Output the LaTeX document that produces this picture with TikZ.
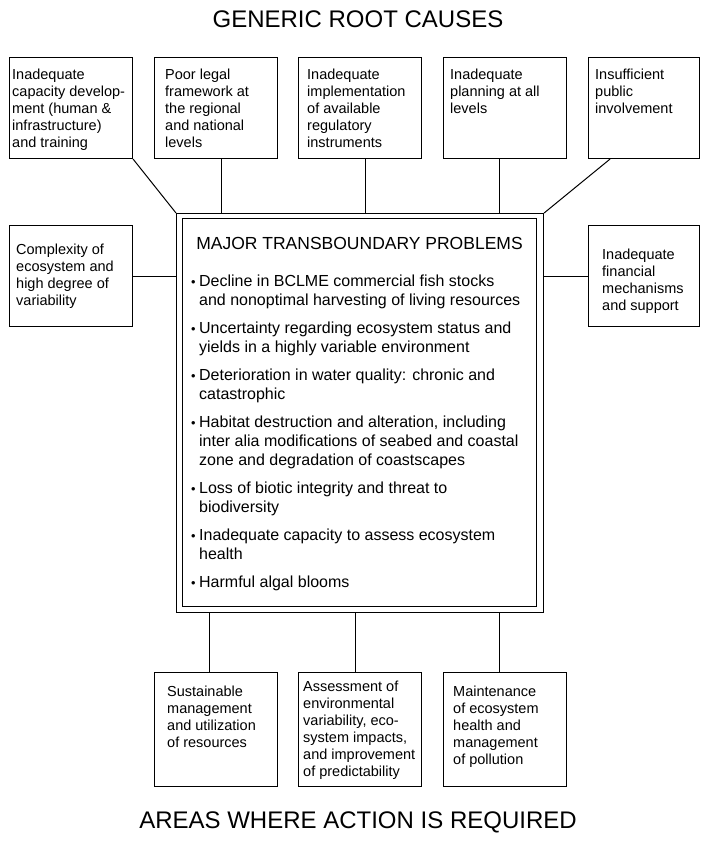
\documentclass[tikz,border=0pt]{standalone}
\usepackage{fontspec}
\setmainfont{Liberation Sans}
\newcommand\bul{\scalebox{0.8}{\textbullet}}
\begin{document}
\begin{tikzpicture}[x=1pt,y=-1pt,
  box/.style={draw, line width=1.1pt, rectangle, inner sep=0pt, anchor=north west},
  boxtext/.style={anchor=north west, inner sep=0pt, align=left,
    font=\fontsize{14.5}{17}\selectfont, execute at begin node=\strut},
  link/.style={line width=1pt},
  heading/.style={font=\fontsize{24}{28}\selectfont, inner sep=0pt}]
\useasboundingbox (0,0) rectangle (701,845);

% headings
\node[heading, anchor=center] (hroot) at (358,19) {GENERIC ROOT CAUSES};
\node[heading, anchor=base] (hact) at (358,828) {AREAS WHERE ACTION IS REQUIRED};

% root causes, top row
\node[box, minimum width=123pt, minimum height=101pt] (c1) at (9,57) {};
\node[box, minimum width=123pt, minimum height=101pt] (c2) at (154,57) {};
\node[box, minimum width=123pt, minimum height=101pt] (c3) at (298,57) {};
\node[box, minimum width=123pt, minimum height=101pt] (c4) at (443,57) {};
\node[box, minimum width=111pt, minimum height=101pt] (c5) at (588,57) {};
\node[boxtext] (c1t) at (12,68.3) {Inadequate\\capacity develop-\\ment (human \&\\infrastructure)\\and training};
\node[boxtext] (c2t) at (165,68.3) {Poor legal\\framework at\\the regional\\and national\\levels};
\node[boxtext] (c3t) at (307,68.3) {Inadequate\\implementation\\of available\\regulatory\\instruments};
\node[boxtext] (c4t) at (450,68.3) {Inadequate\\planning at all\\levels};
\node[boxtext] (c5t) at (595,68.3) {Insufficient\\public\\involvement};

% root causes, side boxes
\node[box, minimum width=123pt, minimum height=101pt] (cl) at (9,225) {};
\node[box, minimum width=111pt, minimum height=101pt] (cr) at (588,225) {};
\node[boxtext] (clt) at (16,243.3) {Complexity of\\ecosystem and\\high degree of\\variability};
\node[boxtext] (crt) at (602,248.3) {Inadequate\\financial\\mechanisms\\and support};

% central problem box with double frame
\node[box, minimum width=367pt, minimum height=399pt] (main) at (176,213) {};
\node[box, minimum width=354pt, minimum height=388pt] (maininner) at (182,218) {};
\node[inner sep=0pt, anchor=center, font=\fontsize{17.5}{20}\selectfont] (mtitle) at (359.5,243)
  {MAJOR TRANSBOUNDARY PROBLEMS};
\node[inner sep=0pt, anchor=north west, font=\fontsize{16}{19}\selectfont] (mlist) at (191,273.4) {%
\begin{tabular}{@{}l@{\hspace{3.5pt}}l@{}}
\bul & Decline in BCLME commercial fish stocks\\
     & and nonoptimal harvesting of living resources\\[9pt]
\bul & Uncertainty regarding ecosystem status and\\
     & yields in a highly variable environment\\[9pt]
\bul & Deterioration in water quality: chronic and\\
     & catastrophic\\[9pt]
\bul & Habitat destruction and alteration, including\\
     & inter alia modifications of seabed and coastal\\
     & zone and degradation of coastscapes\\[9pt]
\bul & Loss of biotic integrity and threat to\\
     & biodiversity\\[9pt]
\bul & Inadequate capacity to assess ecosystem\\
     & health\\[9pt]
\bul & Harmful algal blooms
\end{tabular}};

% areas where action is required
\node[box, minimum width=123pt, minimum height=114pt] (a1) at (154,672) {};
\node[box, minimum width=123pt, minimum height=114pt] (a2) at (298,672) {};
\node[box, minimum width=123pt, minimum height=114pt] (a3) at (443,672) {};
\node[boxtext] (a1t) at (167,685.3) {Sustainable\\management\\and utilization\\of resources};
\node[boxtext] (a2t) at (303,680.3) {Assessment of\\environmental\\variability, eco-\\system impacts,\\and improvement\\of predictability};
\node[boxtext] (a3t) at (453,685.3) {Maintenance\\of ecosystem\\health and\\management\\of pollution};

% connectors
\draw[link] (c1.south east) -- (main.north west);
\draw[link] ([xshift=5.5pt]c2.south) -- ([xshift=5.5pt]c2.south |- main.north);
\draw[link] ([xshift=5.5pt]c3.south) -- ([xshift=5.5pt]c3.south |- main.north);
\draw[link] ([xshift=-5.5pt]c4.south) -- ([xshift=-5.5pt]c4.south |- main.north);
\draw[link] ([xshift=22pt]c5.south west) -- (main.north east);
\draw[link] (cl.east) -- (cl.east -| main.west);
\draw[link] (cr.west) -- (cr.west -| main.east);
\draw[link] ([xshift=-6.5pt]a1.north |- main.south) -- ([xshift=-6.5pt]a1.north);
\draw[link] ([xshift=-4.5pt]a2.north |- main.south) -- ([xshift=-4.5pt]a2.north);
\draw[link] ([xshift=-5.5pt]a3.north |- main.south) -- ([xshift=-5.5pt]a3.north);
\end{tikzpicture}
\end{document}
